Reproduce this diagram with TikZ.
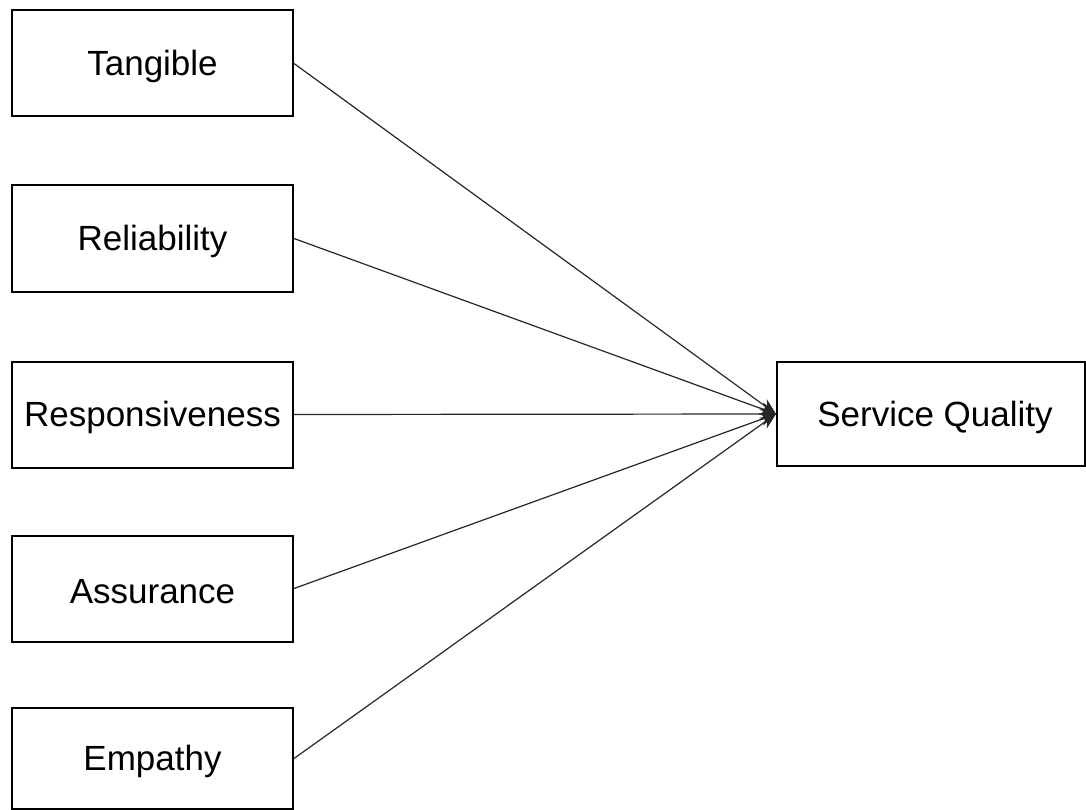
\documentclass[tikz,border=0pt]{standalone}
\usepackage{fontspec}
\setmainfont{Liberation Sans}
\usetikzlibrary{arrows.meta}
\begin{document}
\begin{tikzpicture}[x=1pt,y=-1pt,
  dimbox/.style={draw=black, line width=2pt, minimum width=281pt, minimum height=106pt,
    inner sep=0pt, font=\fontsize{35}{40}\selectfont},
  lbl/.style={font=\fontsize{35}{40}\selectfont},
  link/.style={draw=black!85, line width=1.2pt},
  tip/.style={-{Stealth[length=16pt,width=13pt]}}]
  \useasboundingbox (0,0) rectangle (1086,810);
  \begin{scope}
    \clip (0,0) rectangle (1086,810);
    % five dimensions on the left
    \node[dimbox] (tan) at (152.5,63.5)  {};
    \node[dimbox] (rel) at (152.5,238.5) {};
    \node[dimbox] (res) at (152.5,414.5) {};
    \node[dimbox] (ass) at (152.5,588.5) {};
    \node[dimbox, minimum height=101pt] (emp) at (152.5,758.5) {};
    \node[lbl] (tant) at ([yshift=-3pt]tan.center) {Tangible};
    \node[lbl] (relt) at ([yshift=-3pt]rel.center) {Reliability};
    \node[lbl] (rest) at ([yshift=-3pt]res.center) {Responsiveness};
    \node[lbl] (asst) at ([yshift=-3pt]ass.center) {Assurance};
    \node[lbl] (empt) at ([yshift=-3pt]emp.center) {Empathy};
    % outcome
    \node[dimbox, minimum width=308pt, minimum height=104pt] (sq) at (931,414) {};
    \node[lbl] (sqt) at ([xshift=4pt,yshift=-3pt]sq.center) {Service Quality};
    % connectors
    \foreach \s in {tan,rel,res,ass,emp}
      \draw[link, tip] (\s.east) -- (sq.west);
  \end{scope}
\end{tikzpicture}
\end{document}
